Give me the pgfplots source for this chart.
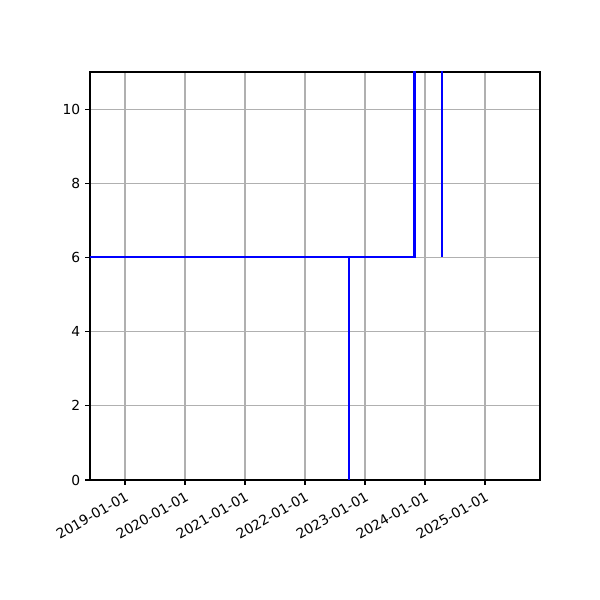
\documentclass[border=0pt]{standalone}
\usepackage{fontspec}
\setmainfont{DejaVu Sans}
\usepackage{pgfplots}
\pgfplotsset{compat=1.18}
\begin{document}
\fontsize{10}{12}\selectfont
\begin{tikzpicture}
\path (0,0) rectangle (6in,6in);
\begin{axis}[
  at={(0.9in,1.2in)}, anchor=south west,
  scale only axis,
  width=4.5in, height=4.08in,
  xmin=2018.417, xmax=2025.917,
  ymin=0, ymax=11,
  xtick={2019,2020,2021,2022,2023,2024,2025},
  xticklabels={2019-01-01,2020-01-01,2021-01-01,2022-01-01,2023-01-01,2024-01-01,2025-01-01},
  ytick={0,2,4,6,8,10},
  xticklabel style={rotate=30, anchor=north east, font=\fontsize{10}{12}\selectfont, xshift=1pt},
  yticklabel style={font=\fontsize{10}{12}\selectfont},
  /pgf/number format/assume math mode=true,
  grid=major,
  major grid style={color=black!31, line width=0.8pt},
  axis line style={line width=0.8pt},
  tick style={black, line width=0.8pt},
  tick align=outside,
  major tick length=3.5pt,
  xtick pos=bottom, ytick pos=left,
]
\addplot[color=blue, line width=1.5pt, mark=none] coordinates {
  (2018.40,6) (2022.728,6) (2022.728,0) (2022.728,6) (2023.825,6)
  (2023.825,20) (2024.283,20) (2024.283,6)
};
\end{axis}
\end{tikzpicture}
\end{document}
